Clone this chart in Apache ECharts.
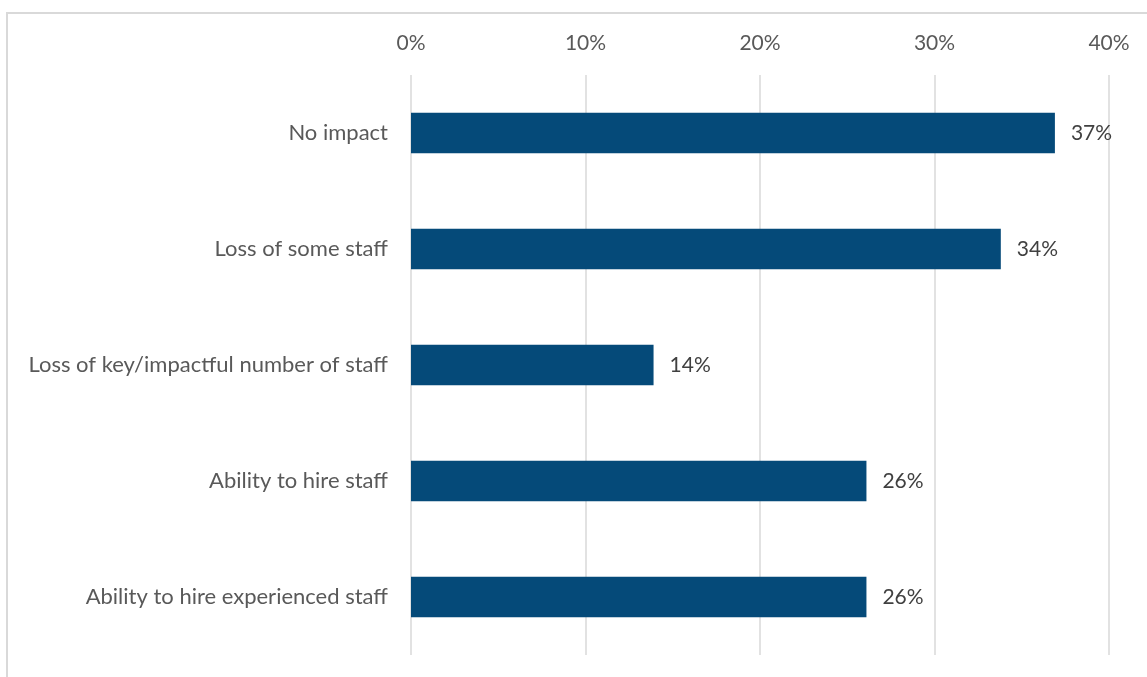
<!DOCTYPE html>
<html>
<head>
<meta charset="utf-8">
<script src="https://cdn.jsdelivr.net/npm/echarts@6/dist/echarts.min.js"></script>
<style>html,body{margin:0;padding:0;background:#fff;}#c{width:1147px;height:677px;}</style>
</head>
<body>
<div id="c"></div>
<script>
const categories = ["No impact", "Loss of some staff", "Loss of key/impactful number of staff", "Ability to hire staff", "Ability to hire experienced staff"];
const values = [36.9, 33.8, 13.9, 26.1, 26.1];
const tickLabels = ["0%", "10%", "20%", "30%", "40%"];

const chart = echarts.init(document.getElementById('c'));
const font = 'Lato, "Open Sans", sans-serif';
chart.setOption({
  animation: false,
  backgroundColor: '#fff',
  graphic: [{
    type: 'rect', silent: true,
    shape: { x: 7, y: 13, width: 1200, height: 700 },
    style: { fill: 'none', stroke: '#d9d9d9', lineWidth: 2 }
  }],
  grid: { left: 411, right: 38, top: 75, bottom: 22 },
  xAxis: {
    type: 'value', position: 'top', min: 0, max: 40, interval: 10,
    axisLine: { show: false }, axisTick: { show: false },
    splitLine: { show: true, lineStyle: { color: '#d9d9d9', width: 1.5 } },
    axisLabel: { margin: 21, color: '#595959', fontSize: 21, fontFamily: font,
      formatter: v => tickLabels[Math.round(v / 10)] }
  },
  yAxis: {
    type: 'category', data: categories, inverse: true,
    axisLine: { show: false }, axisTick: { show: false },
    axisLabel: { margin: 23, color: '#595959', fontSize: 22, fontFamily: font }
  },
  series: [{
    type: 'bar', data: values, barWidth: '35%',
    itemStyle: { color: '#054a79' },
    label: { show: true, position: 'right', distance: 16, color: '#404040', fontSize: 21, fontFamily: font,
      formatter: p => Math.round(p.value) + '%' }
  }]
});
</script>
</body>
</html>
